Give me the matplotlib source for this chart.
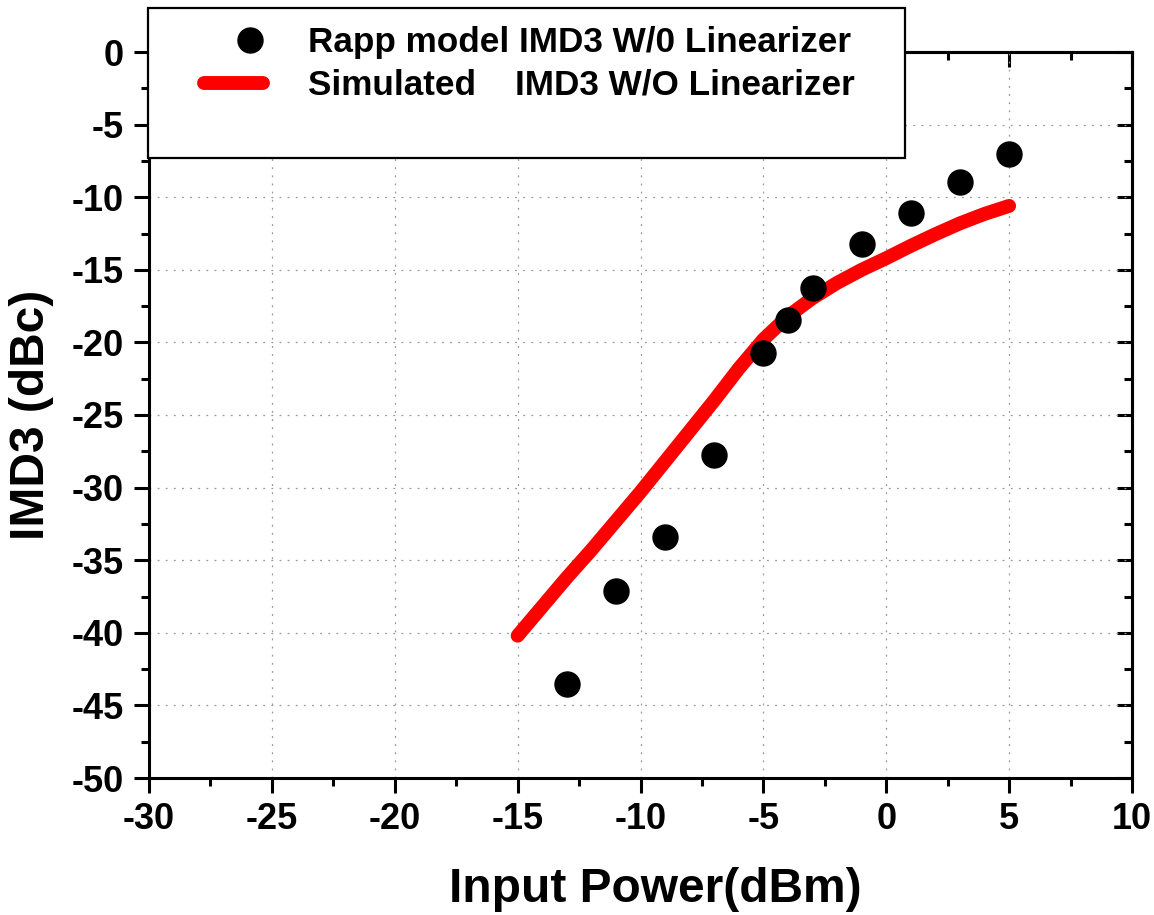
import matplotlib
matplotlib.use("Agg")
import matplotlib.pyplot as plt
from matplotlib.patches import Rectangle
from matplotlib.ticker import MultipleLocator
from matplotlib.legend_handler import HandlerLine2D

plt.rcParams['font.family'] = ['Liberation Sans', 'DejaVu Sans']
plt.rcParams['font.weight'] = 'bold'
plt.rcParams['axes.unicode_minus'] = False

# Data
rapp_x = [-13, -11, -9, -7, -5, -4, -3, -1, 1, 3, 5]
rapp_y = [-43.5, -37.1, -33.4, -27.75, -20.7, -18.45, -16.25, -13.2, -11.1, -8.95, -7.0]

sim_x = [-15, -14, -13, -12, -11, -10, -9, -8, -7, -6, -5, -4, -3, -2, -1, 0, 1, 2, 3, 4, 5]
sim_y = [-40.2, -38.2, -36.2, -34.3, -32.3, -30.3, -28.2, -26.1, -24.0, -21.8, -19.8,
         -18.2, -16.95, -15.9, -15.0, -14.2, -13.35, -12.55, -11.8, -11.15, -10.6]

label_rapp = "Rapp model IMD3 W/0 Linearizer"
label_sim = "Simulated    IMD3 W/O Linearizer"


class OffsetMarkerHandler(HandlerLine2D):
    def get_xdata(self, legend, xdescent, ydescent, width, height, fontsize):
        xd = [-xdescent + 0.79 * width]
        return xd, xd


W, H = 1154, 915
fig = plt.figure(figsize=(W / 100, H / 100), dpi=100)
ax = fig.add_axes([149 / W, 1 - 778 / H, 983 / W, 726 / H])

line_sim, = ax.plot(sim_x, sim_y, color='#ff0000', lw=10, solid_capstyle='round',
                    solid_joinstyle='round', zorder=3, label=label_sim)
pts, = ax.plot(rapp_x, rapp_y, 'o', color='black', ms=18, zorder=4, label=label_rapp)

ax.set_xlim(-30, 10)
ax.set_ylim(-50, 0)
ax.xaxis.set_major_locator(MultipleLocator(5))
ax.xaxis.set_minor_locator(MultipleLocator(2.5))
ax.yaxis.set_major_locator(MultipleLocator(5))
ax.yaxis.set_minor_locator(MultipleLocator(2.5))

ax.grid(True, which='major', color='#999999', lw=0.9, linestyle=(0, (1.5, 5)), zorder=1)
ax.set_axisbelow(True)

for s in ax.spines.values():
    s.set_linewidth(2.2)

ax.tick_params(which='major', direction='out', length=11, width=2.2, labelsize=26)
ax.tick_params(which='minor', direction='out', length=6, width=2.2)
ax.tick_params(axis='x', which='major', pad=6)
ax.tick_params(axis='y', which='major', pad=7)
for lab in ax.get_xticklabels() + ax.get_yticklabels():
    lab.set_fontweight('bold')

# inward ticks on top and right
sx = ax.secondary_xaxis('top')
sx.xaxis.set_major_locator(MultipleLocator(5))
sx.xaxis.set_minor_locator(MultipleLocator(2.5))
sx.tick_params(which='major', direction='in', length=11, width=2.2, labeltop=False)
sx.tick_params(which='minor', direction='in', length=6, width=2.2)
sx.spines['top'].set_linewidth(2.2)
sy = ax.secondary_yaxis('right')
sy.yaxis.set_major_locator(MultipleLocator(5))
sy.yaxis.set_minor_locator(MultipleLocator(2.5))
sy.tick_params(which='major', direction='in', length=11, width=2.2, labelright=False)
sy.tick_params(which='minor', direction='in', length=6, width=2.2)
sy.spines['right'].set_linewidth(2.2)

ax.set_xlabel("Input Power(dBm)", fontsize=34.5, fontweight='bold', va='center')
ax.xaxis.set_label_coords(0.515, -0.153)
ax.set_ylabel("IMD3 (dBc)", fontsize=34.5, fontweight='bold', va='center')
ax.yaxis.set_label_coords(-0.12, 0.5)

# legend box
box = Rectangle((148 / W, 1 - 158 / H), (905 - 148) / W, 150 / H, transform=fig.transFigure,
                facecolor='white', edgecolor='black', lw=1.6, zorder=10)
fig.patches.append(box)

leg = fig.legend(handles=[pts, line_sim], labels=[label_rapp, label_sim],
                 loc='upper left', bbox_to_anchor=(204 / W, 1 - 26 / H),
                 frameon=False, prop={'weight': 'bold', 'size': 25.3},
                 handlelength=1.67, handletextpad=1.3, borderpad=0, borderaxespad=0,
                 labelspacing=0.28, numpoints=1,
                 handler_map={pts: OffsetMarkerHandler(numpoints=1)})
leg.set_zorder(11)

fig.savefig("out.png", dpi=100)
